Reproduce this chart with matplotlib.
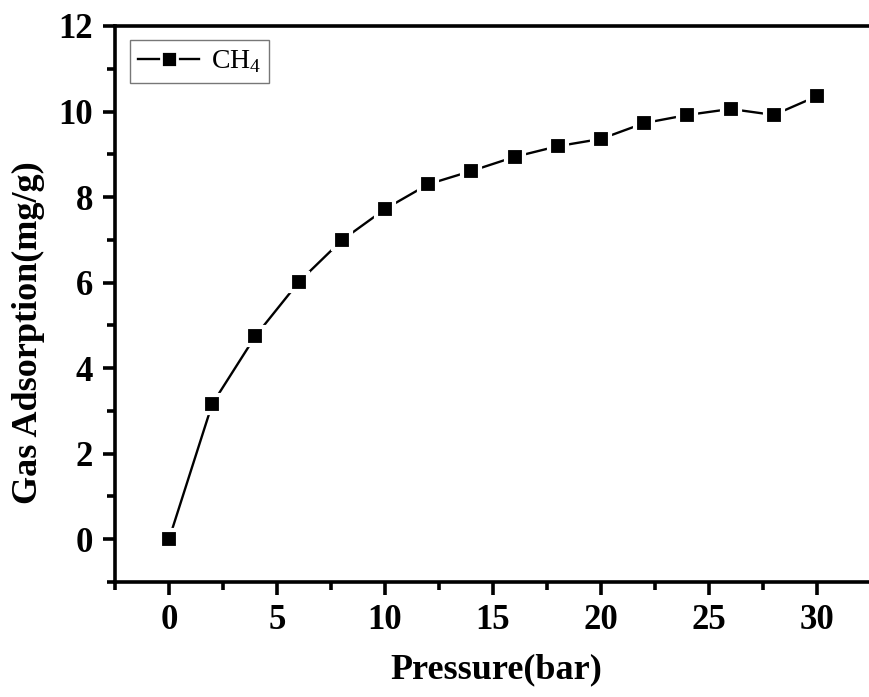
import matplotlib
matplotlib.use("Agg")
import matplotlib.pyplot as plt
from matplotlib.ticker import MultipleLocator

pressure = [0, 2, 4, 6, 8, 10, 12, 14, 16, 18, 20, 22, 24, 26, 28, 30]
adsorption = [0.0, 3.16, 4.75, 6.01, 6.99, 7.72, 8.30, 8.61, 8.94, 9.19,
              9.36, 9.73, 9.92, 10.06, 9.92, 10.36]
series_label = "CH$_4$"
x_label = "Pressure(bar)"
y_label = "Gas Adsorption(mg/g)"

plt.rcParams['font.family'] = ['Liberation Serif', 'DejaVu Serif']
plt.rcParams['mathtext.fontset'] = 'custom'
plt.rcParams['mathtext.rm'] = 'Liberation Serif'

fig = plt.figure(figsize=(8.70, 6.97), dpi=100)
ax = fig.add_axes([115/870, 1-582/697, (871-115)/870, (582-26)/697])

ax.plot(pressure, adsorption, color='black', lw=1.7, marker='s', ms=13,
        mfc='black', mec='white', mew=3, label=series_label, clip_on=False, zorder=3)

ax.set_xlim(-2.5, 32.5)
ax.set_ylim(-1, 12)
ax.xaxis.set_major_locator(MultipleLocator(5))
ax.xaxis.set_minor_locator(MultipleLocator(2.5))
ax.yaxis.set_major_locator(MultipleLocator(2))
ax.yaxis.set_minor_locator(MultipleLocator(1))

for s in ['left', 'bottom', 'top']:
    ax.spines[s].set_linewidth(2.6)
ax.spines['right'].set_visible(False)
ax.tick_params(which='major', direction='out', length=9, width=2.6, pad=7,
               labelsize=25, top=False, right=False)
ax.tick_params(which='minor', direction='out', length=5.5, width=2.6,
               top=False, right=False)
for lab in ax.get_xticklabels() + ax.get_yticklabels():
    lab.set_fontweight('bold')

ax.set_xlabel(x_label, fontsize=26, fontweight='bold')
ax.set_ylabel(y_label, fontsize=26, fontweight='bold')
ax.xaxis.set_label_coords(0.505, -0.128)
ax.yaxis.set_label_coords(-0.093, 0.448)

leg = ax.legend(loc='upper left', bbox_to_anchor=(15/756, 1-14/556), fontsize=20,
                frameon=True, fancybox=False, handlelength=2.2, borderpad=0.3,
                handletextpad=0.4, borderaxespad=0)
leg.get_frame().set_edgecolor('#555555')
leg.get_frame().set_linewidth(1.0)
for h in leg.legend_handles:
    h.set_markersize(11)
    h.set_markeredgewidth(2)

fig.savefig("out.png", dpi=100)
